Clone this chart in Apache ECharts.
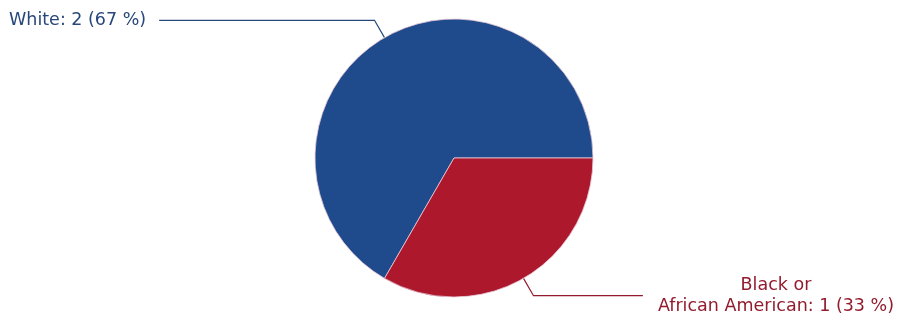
<!DOCTYPE html>
<html>
<head>
<meta charset="utf-8">
<script src="https://cdn.jsdelivr.net/npm/echarts@6/dist/echarts.min.js"></script>
<style>html,body{margin:0;padding:0;background:#fff;}#c{width:903px;height:324px;}</style>
</head>
<body>
<div id="c"></div>
<script>
const categories = ['White', 'Black or African American'];
const counts = [2, 1];
const sliceColors = ['#1f4b8d', '#ae182d'];
const labelColors = ['#28477a', '#921c2d'];

const chart = echarts.init(document.getElementById('c'), null, {renderer: 'canvas'});
const font = {fontFamily: 'DejaVu Sans', fontSize: 17.5, lineHeight: 21};
const data = categories.map((n, i) => ({
  name: n,
  value: counts[i],
  itemStyle: {color: sliceColors[i]},
  label: {
    color: labelColors[i],
    distanceToLabelLine: i === 0 ? 13 : 15,
    rich: {c: Object.assign({color: labelColors[i], align: 'center'}, font)}
  },
  labelLine: {lineStyle: {color: labelColors[i]}}
}));
chart.setOption({
  animation: false,
  series: [{
    type: 'pie',
    left: 0, top: 0, width: 903, height: 324,
    center: [454, 158],
    radius: 139,
    startAngle: 240,
    clockwise: true,
    avoidLabelOverlap: true,
    data: data,
    itemStyle: {borderColor: 'rgba(230,200,215,0.8)', borderWidth: 1},
    label: Object.assign({
      show: true,
      position: 'outside',
      alignTo: 'edge',
      edgeDistance: 9,
      formatter: p => {
        const txt = p.name.replace(' or ', ' or\n') + ': ' + p.value + ' (' + Math.round(p.percent) + ' %)';
        return txt.split('\n').map(s => '{c|' + s + '}').join('\n');
      }
    }, font),
    labelLine: {show: true, length: 20, length2: 10, lineStyle: {width: 1.2}},
    emphasis: {disabled: true}
  }]
});
</script>
</body>
</html>
